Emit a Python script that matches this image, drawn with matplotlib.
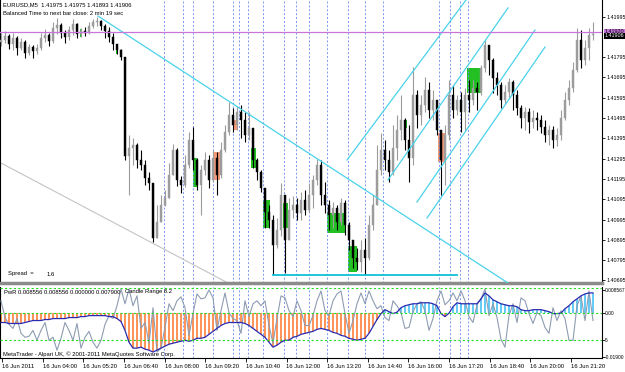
import numpy as np
import matplotlib.pyplot as plt
import matplotlib.transforms as mtransforms
from matplotlib.patches import Rectangle

plt.rcParams['font.family'] = ['Liberation Sans', 'DejaVu Sans']

# -------------------------------------------------------
# EURUSD M5 candles
# -------------------------------------------------------
first_open = 1.41870
closes = [1.41880, 1.41899, 1.41860, 1.41890, 1.41840, 1.41870, 1.41816, 1.41845, 1.41826, 1.41840,
          1.41890, 1.41904, 1.41875, 1.41939, 1.41954, 1.41914, 1.41894, 1.41929, 1.41958, 1.41909,
          1.41924, 1.41914, 1.41949, 1.41968, 1.41973, 1.41949, 1.41924, 1.41894, 1.41860, 1.41831,
          1.41796, 1.41308, 1.41347, 1.41362, 1.41288, 1.41263, 1.41199, 1.41175, 1.40903, 1.40982,
          1.41066, 1.41101, 1.41214, 1.41338, 1.41190, 1.41165, 1.41263, 1.41387, 1.41288, 1.41165,
          1.41239, 1.41288, 1.41190, 1.41298, 1.41214, 1.41338, 1.41426, 1.41510, 1.41460, 1.41525,
          1.41485, 1.41411, 1.41446, 1.41288, 1.41229, 1.41150, 1.41032, 1.40992, 1.40869, 1.40943,
          1.41115, 1.40894, 1.41042, 1.41066, 1.41027, 1.41091, 1.41042, 1.41115, 1.41190, 1.41263,
          1.41115, 1.41066, 1.41017, 1.41052, 1.40982, 1.41076, 1.40967, 1.40894, 1.40805, 1.40785,
          1.40845, 1.40805, 1.40967, 1.41066, 1.41239, 1.41338, 1.41288, 1.41229, 1.41347, 1.41436,
          1.41485, 1.41387, 1.41298, 1.41608, 1.41510, 1.41559, 1.41633, 1.41535, 1.41584, 1.41436,
          1.41288, 1.41411, 1.41608, 1.41535, 1.41584, 1.41525, 1.41608, 1.41584, 1.41643, 1.41623,
          1.41742, 1.41855, 1.41781, 1.41692, 1.41658, 1.41584, 1.41623, 1.41673, 1.41608, 1.41544,
          1.41495, 1.41525, 1.41475, 1.41495, 1.41485, 1.41451, 1.41411, 1.41436, 1.41387, 1.41411,
          1.41495, 1.41584, 1.41643, 1.41732, 1.41880, 1.41781, 1.41840, 1.41904, 1.41906]
highs = [1.41914, 1.41924, 1.41909, 1.41914, 1.41899, 1.41890, 1.41880, 1.41860, 1.41855, 1.41860,
         1.41914, 1.41934, 1.41914, 1.41968, 1.41988, 1.41963, 1.41929, 1.41949, 1.41983, 1.41963,
         1.41939, 1.41944, 1.41968, 1.41983, 1.41993, 1.41978, 1.41958, 1.41944, 1.41914, 1.41860,
         1.41835, 1.41796, 1.41411, 1.41396, 1.41372, 1.41338, 1.41288, 1.41229, 1.41175, 1.41066,
         1.41115, 1.41140, 1.41273, 1.41367, 1.41347, 1.41209, 1.41313, 1.41426, 1.41451, 1.41298,
         1.41263, 1.41328, 1.41313, 1.41338, 1.41328, 1.41377, 1.41460, 1.41574, 1.41544, 1.41554,
         1.41559, 1.41525, 1.41525, 1.41436, 1.41298, 1.41239, 1.41150, 1.41066, 1.41017, 1.41002,
         1.41175, 1.41091, 1.41101, 1.41111, 1.41101, 1.41130, 1.41140, 1.41175, 1.41214, 1.41293,
         1.41288, 1.41180, 1.41091, 1.41081, 1.41066, 1.41101, 1.41091, 1.40982, 1.40894, 1.40854,
         1.40894, 1.40903, 1.41017, 1.41115, 1.41362, 1.41421, 1.41387, 1.41338, 1.41460, 1.41510,
         1.41608, 1.41495, 1.41460, 1.41746, 1.41633, 1.41608, 1.41697, 1.41673, 1.41633, 1.41559,
         1.41421, 1.41460, 1.41683, 1.41658, 1.41608, 1.41623, 1.41643, 1.41683, 1.41683, 1.41673,
         1.41757, 1.41880, 1.41840, 1.41791, 1.41722, 1.41673, 1.41658, 1.41692, 1.41683, 1.41633,
         1.41559, 1.41549, 1.41544, 1.41535, 1.41525, 1.41510, 1.41485, 1.41460, 1.41456, 1.41446,
         1.41535, 1.41623, 1.41683, 1.41771, 1.41939, 1.41929, 1.41880, 1.41939, 1.41968]
lows = [1.41850, 1.41865, 1.41835, 1.41831, 1.41806, 1.41831, 1.41791, 1.41806, 1.41791, 1.41811,
        1.41831, 1.41870, 1.41850, 1.41865, 1.41909, 1.41890, 1.41865, 1.41880, 1.41904, 1.41890,
        1.41894, 1.41899, 1.41909, 1.41939, 1.41949, 1.41929, 1.41890, 1.41870, 1.41831, 1.41811,
        1.41781, 1.41288, 1.41115, 1.41263, 1.41249, 1.41239, 1.41165, 1.41140, 1.40884, 1.40913,
        1.41032, 1.41061, 1.41101, 1.41239, 1.41160, 1.41125, 1.41155, 1.41249, 1.41239, 1.41140,
        1.41017, 1.41214, 1.41150, 1.41180, 1.41115, 1.41199, 1.41328, 1.41411, 1.41426, 1.41436,
        1.41397, 1.41377, 1.41387, 1.41249, 1.41190, 1.41130, 1.40953, 1.40953, 1.40721, 1.40854,
        1.40913, 1.40731, 1.40894, 1.41002, 1.40992, 1.40992, 1.41017, 1.41032, 1.41052, 1.41165,
        1.41066, 1.41027, 1.40943, 1.40953, 1.40943, 1.40967, 1.40918, 1.40845, 1.40756, 1.40746,
        1.40736, 1.40721, 1.40795, 1.40943, 1.41066, 1.41214, 1.41239, 1.41180, 1.41214, 1.41288,
        1.41387, 1.41338, 1.41180, 1.41263, 1.41446, 1.41460, 1.41525, 1.41495, 1.41485, 1.41411,
        1.41115, 1.41165, 1.41387, 1.41495, 1.41510, 1.41426, 1.41436, 1.41525, 1.41559, 1.41535,
        1.41608, 1.41722, 1.41707, 1.41618, 1.41608, 1.41544, 1.41564, 1.41594, 1.41535, 1.41510,
        1.41446, 1.41436, 1.41421, 1.41446, 1.41436, 1.41421, 1.41377, 1.41362, 1.41347, 1.41357,
        1.41387, 1.41485, 1.41559, 1.41623, 1.41722, 1.41742, 1.41757, 1.41781, 1.41880]

# PwR indicator (x1e-3) and candle range line (x1e-3)
pwr = [-4.0, -4.0, -4.4, -4.4, -4.4, -4.4, -4.0, -3.6, -3.2, -3.2,
       -3.2, -2.8, -2.8, -2.4, -2.4, -2.4, -2.4, -2.0, -2.0, -2.0,
       -1.6, -1.6, -1.2, -1.2, -1.2, -1.2, -1.2, -1.6, -1.6, -2.4,
       -3.6, -7.2, -12.0, -14.4, -14.4, -14.0, -14.8, -15.2, -16.0, -15.2,
       -14.4, -13.6, -12.8, -12.4, -12.0, -11.6, -11.2, -11.6, -11.2, -10.4,
       -10.4, -10.0, -8.8, -7.6, -6.4, -5.2, -4.4, -4.0, -4.0, -4.0,
       -4.0, -4.4, -5.2, -6.4, -7.6, -8.8, -10.0, -12.0, -14.0, -13.2,
       -12.0, -11.2, -11.2, -10.0, -9.6, -8.8, -8.4, -8.0, -7.6, -6.8,
       -6.4, -6.8, -7.2, -8.0, -8.4, -9.2, -9.6, -10.4, -10.8, -11.2,
       -10.8, -10.4, -8.4, -5.6, -2.8, -0.4, 1.2, 0.4, -0.4, 0.2,
       2.0, 2.8, 3.2, 3.6, 3.6, 4.0, 4.0, 4.0, 3.6, 2.8,
       -0.4, -1.6, -0.2, 2.4, 4.0, 3.6, 3.6, 3.6, 3.6, 3.6,
       5.6, 8.0, 6.8, 5.2, 4.4, 3.6, 3.2, 2.8, 2.8, 2.4,
       1.2, 0.8, 0.8, 1.2, 1.2, 1.2, 0.8, 0.4, -0.4, -0.4,
       -0.2, 1.6, 2.8, 4.4, 5.6, 6.8, 7.6, 8.0, 8.0]
candle_range = [4.8, -2.0, -4.8, -6.4, -2.4, -8.4, -10.0, -9.6, -7.2, -11.2,
                -7.2, -4.0, -11.2, -10.0, -15.2, -10.4, -4.0, -7.2, -11.2, -4.4,
                -14.4, -10.0, -7.6, -12.0, -14.4, -11.2, -4.8, -1.2, -2.4, 2.8,
                9.6, 3.6, 9.6, 2.8, 6.8, -6.4, -4.0, -12.4, 2.0, -16.0,
                -14.4, -6.0, 3.6, 0.8, 4.8, 6.4, 2.0, -9.2, -0.4, 7.6,
                5.6, 6.0, 9.2, 6.0, -7.2, 0.8, 8.0, 0.0, -2.4, -3.2,
                -8.4, 4.8, -1.6, 3.6, 4.8, 2.8, 4.8, -5.2, -12.4, -2.4,
                6.8, 6.0, 0.8, -1.6, 4.8, 0.8, -5.2, -5.2, -1.2, 4.8,
                8.8, 0.8, -1.2, 4.8, 7.6, 8.8, -0.4, -8.4, -3.2, 3.6,
                8.0, 3.6, 8.8, 4.8, 1.6, 2.8, -2.0, -3.2, 4.8, 2.8,
                0.0, -6.4, -6.0, 0.4, 3.6, 4.4, 0.8, -7.2, -2.4, 4.8,
                8.8, 3.2, 4.8, 8.0, 4.8, 8.8, 4.8, -1.6, -4.0, 3.2,
                5.6, 9.6, -1.2, 3.6, -2.0, -10.8, -14.0, -1.2, 3.6, -4.0,
                6.0, 4.8, -0.4, -4.4, 0.0, -1.2, -6.0, -8.4, 2.0, -3.2,
                0.8, -2.4, -11.2, -11.2, 2.8, 6.8, -3.2, 8.8, -3.2]

price_ticks = [1.41995, 1.41795, 1.41695, 1.41595, 1.41495, 1.41395, 1.41295,
               1.41195, 1.41095, 1.40995, 1.40895, 1.40795, 1.40695]
ind_ticks = [9.2, 0.0, -11.2, -18.0]
ind_labels = ['0.008567', '0.00', '5', '-0.01900']
time_labels = ['16 Jun 2011', '16 Jun 04:00', '16 Jun 05:20', '16 Jun 06:40', '16 Jun 08:00',
               '16 Jun 09:20', '16 Jun 10:40', '16 Jun 12:00', '16 Jun 13:20', '16 Jun 14:40',
               '16 Jun 16:00', '16 Jun 17:20', '16 Jun 18:40', '16 Jun 20:00', '16 Jun 21:20']
last_price = 1.41906
level_price = 1.41920

# chart objects (bar index, price)
separators = [40.75, 45.5, 48.0, 53.0, 58.0, 59.5, 61.75, 65.5, 70.75, 73.75,
              77.0, 81.5, 86.75, 91.0, 95.5, 109.5, 112.25, 114.75, 116.75]
green_boxes = [(48.0, 49.0, 1.41155, 1.41298), (62.5, 63.75, 1.41249, 1.41347),
               (65.5, 67.25, 1.40953, 1.41091), (70.5, 71.75, 1.40953, 1.41076),
               (81.5, 86.0, 1.40928, 1.41027), (86.75, 89.0, 1.40736, 1.40864),
               (116.5, 120.25, 1.41619, 1.41742), (19.75, 20.25, 1.41895, 1.41934),
               (28.75, 29.25, 1.41811, 1.41845), (101.0, 101.5, 1.41446, 1.41485)]
orange_boxes = [(53.0, 54.75, 1.41190, 1.41328), (109.25, 111.25, 1.41278, 1.41421),
                (58.0, 59.0, 1.41436, 1.41485)]
down_trend = ([24.25, 126.75], [1.41998, 1.40682])
grey_trend = ([-0.25, 56.75], [1.41276, 1.40682])
support = ([68, 114], [1.40721, 1.40721])
channel = [([86.5, 116.25], [1.41288, 1.42077]),
           ([96.75, 126.75], [1.41190, 1.42038]),
           ([104.0, 133.5], [1.41081, 1.41929]),
           ([106.5, 136.0], [1.41002, 1.41845])]

# -------------------------------------------------------
# FIGURE
# -------------------------------------------------------
W, H = 625, 372
fig = plt.figure(figsize=(W / 100, H / 100), dpi=100)
ax = fig.add_axes([0, 1 - 283 / H, 602 / W, 283 / H])
ax2 = fig.add_axes([0, 1 - 358 / H, 602 / W, 71 / H])

idx = np.arange(len(closes))
opens = np.array([first_open] + closes[:-1])
c = np.array(closes)
hi = np.maximum(np.array(highs), np.maximum(opens, c))
lo = np.minimum(np.array(lows), np.minimum(opens, c))
up = c >= opens

# background boxes
for x0, x1, p0, p1 in green_boxes:
    ax.add_patch(Rectangle((x0, p0), x1 - x0, p1 - p0, facecolor='#22c022',
                           edgecolor='none', zorder=1))
for x0, x1, p0, p1 in orange_boxes:
    ax.add_patch(Rectangle((x0, p0), x1 - x0, p1 - p0, facecolor='#f59a78',
                           edgecolor='none', zorder=1))

for a in (ax, ax2):
    for s in separators:
        a.axvline(s, color='#7b96f0', lw=0.7, ls=(0, (2, 2)), zorder=1.5)

# candles
col = np.where(up, '#9c9c9c', '#000000')
ax.vlines(idx, lo, hi, colors=col, lw=0.8, zorder=3)
body_lo = np.minimum(opens, c)
body_h = np.maximum(np.abs(c - opens), 0.00003)
ax.bar(idx, body_h, bottom=body_lo, width=0.72, color=col, edgecolor=col, lw=0.3, zorder=3)

# drawn objects
ax.plot(*down_trend, color='#4ad2ea', lw=0.9, zorder=4)
ax.plot(*grey_trend, color='#c4c4c4', lw=0.8, zorder=2)
ax.plot(*support, color='#10c0d8', lw=1.3, zorder=4)
for xs, ps in channel:
    ax.plot(xs, ps, color='#4ad2ea', lw=0.9, zorder=4)
ax.axhline(level_price, color='#c874dc', lw=0.9, zorder=4)

ax.set_xlim(-0.25, 150.25)
ax.set_ylim(1.40682, 1.42077)
ax.yaxis.tick_right()
ax.set_yticks(price_ticks)
ax.set_yticklabels([f'{p:.5f}' for p in price_ticks])
ax.tick_params(axis='y', direction='out', length=2.5, width=0.6, pad=0.5, labelsize=3.9)
ax.set_xticks([])
ax.spines['top'].set_visible(False)
ax.spines['left'].set_linewidth(0.8)
ax.spines['right'].set_linewidth(0.8)
ax.spines['bottom'].set_color('#8c8c8c')
ax.spines['bottom'].set_linewidth(2.5)

trans = mtransforms.blended_transform_factory(ax.transAxes, ax.transData)
ax.text(1.004, level_price, '1.41920', transform=trans, fontsize=3.9, va='center', color='black',
        bbox=dict(boxstyle='square,pad=0.15', fc='#c874dc', ec='none'), clip_on=False)
ax.text(1.004, last_price - 0.00006, '1.41906', transform=trans, fontsize=3.9, va='center',
        color='white', bbox=dict(boxstyle='square,pad=0.15', fc='black', ec='none'), clip_on=False)

# indicator panel
ind_col = np.where(np.array(pwr) < 0, '#ff8a4a', '#58c6f2')
ax2.vlines(idx, 0, pwr, colors=ind_col, lw=1.3, zorder=2)
ax2.plot(idx, candle_range, color='#8e9cb2', lw=0.8, zorder=3)
ax2.plot(idx, pwr, color='#2a2ab0', lw=0.9, zorder=4)
for lvl in (10.0, 0.0, -11.2):
    ax2.axhline(lvl, color='#22dd22', lw=0.8, ls=(0, (2, 2)), zorder=5)
ax2.set_xlim(-0.25, 150.25)
ax2.set_ylim(-18.4, 10.4)
ax2.yaxis.tick_right()
ax2.set_yticks(ind_ticks)
ax2.set_yticklabels(ind_labels)
ax2.set_xticks(np.linspace(0.25, 142.5, len(time_labels)))
ax2.set_xticklabels(time_labels)
for lbl in ax2.get_xticklabels():
    lbl.set_ha('left')
ax2.tick_params(axis='x', direction='out', length=3, width=0.6, pad=1, labelsize=4.2)
ax2.tick_params(axis='y', direction='out', length=2, width=0.6, pad=0.3, labelsize=3.5)
ax2.spines['top'].set_visible(False)
for sp in ('left', 'right', 'bottom'):
    ax2.spines[sp].set_linewidth(0.8)

# texts
fs = 4.2
fig.text(3 / W, 1 - 5 / H, 'EURUSD,M5  1.41975 1.41975 1.41893 1.41906', fontsize=fs, va='center')
fig.text(3 / W, 1 - 13.5 / H, 'Balanced Time to next bar close: 2 min 19 sec', fontsize=fs, va='center')
fig.text(8 / W, 1 - 274 / H, 'Spread  =', fontsize=fs, va='center')
fig.text(47 / W, 1 - 274 / H, '1.6', fontsize=fs, va='center')
fig.text(4 / W, 1 - 292 / H, 'PwR 0.008556 0.008556 0.000000 0.007900', fontsize=fs, va='center')
fig.text(125 / W, 1 - 292 / H, 'Candle Range 8.2', fontsize=fs, va='center')
fig.text(3 / W, 1 - 354 / H, 'MetaTrader - Alpari UK, \u00a9 2001-2011 MetaQuotes Software Corp.',
         fontsize=fs, va='center')

fig.savefig('out.png', dpi=100)
